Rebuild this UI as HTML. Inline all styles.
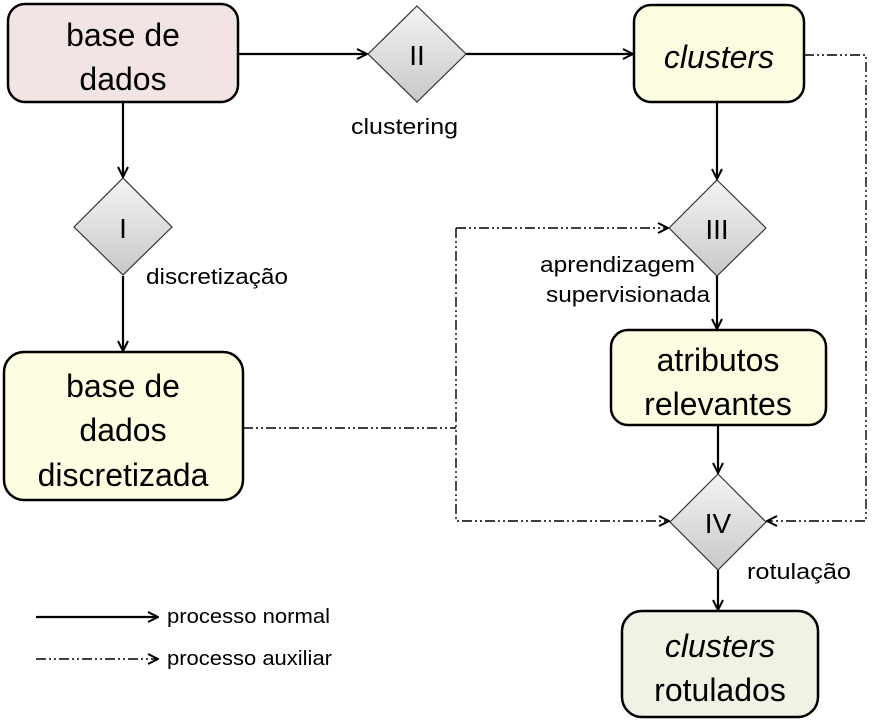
<!DOCTYPE html>
<html><head><style>body{margin:0;background:#fff}svg{display:block}text{font-family:"Liberation Sans",sans-serif;fill:#000}</style></head><body>
<svg width="883" height="722" viewBox="0 0 883 722" xmlns="http://www.w3.org/2000/svg">
<defs>
<linearGradient id="g" x1="0" y1="0" x2="0" y2="1"><stop offset="0" stop-color="#f4f4f4"/><stop offset="1" stop-color="#c8c8c8"/></linearGradient>
<marker id="a" viewBox="0 0 12 12" refX="11" refY="6" markerWidth="12" markerHeight="12" markerUnits="userSpaceOnUse" orient="auto"><path d="M1,1 L11,6 L1,11" fill="none" stroke="#000" stroke-width="2"/></marker>
</defs>
<g stroke="#000" stroke-width="2.2" fill="none" marker-end="url(#a)">
<line x1="123" y1="102" x2="123" y2="177"/>
<line x1="123" y1="276" x2="123" y2="351"/>
<line x1="238" y1="54" x2="367" y2="54"/>
<line x1="466" y1="54" x2="633" y2="54"/>
<line x1="717" y1="102" x2="717" y2="179"/>
<line x1="717" y1="276" x2="717" y2="329"/>
<line x1="718" y1="425" x2="718" y2="473"/>
<line x1="718" y1="570" x2="718" y2="610"/>
<line x1="36" y1="617" x2="158" y2="617"/>
</g>
<g stroke="#000" stroke-width="1.4" fill="none" stroke-dasharray="10,3,2,3,2,3">
<polyline points="243,428 456,428"/>
<polyline points="456,228 456,521 669,521" marker-end="url(#a)"/>
<polyline points="804,55 866,55 866,521 767,521" marker-end="url(#a)"/>
<polyline points="456,228 668,228" marker-end="url(#a)"/>
<line x1="36" y1="659" x2="158" y2="659" marker-end="url(#a)"/>
</g>
<g stroke="#000" stroke-width="2.5">
<rect x="8" y="4" width="230" height="98" rx="17" fill="#f2e4e3"/>
<rect x="634" y="5" width="170" height="97" rx="17" fill="#fcfce0"/>
<rect x="611" y="330" width="215" height="95" rx="17" fill="#fcfce0"/>
<rect x="4" y="352" width="239" height="148" rx="20" fill="#fdfde2"/>
<rect x="622" y="611" width="196" height="106" rx="20" fill="#eef3e3"/>
</g>
<g stroke="#333" stroke-width="1.2" fill="url(#g)">
<polygon points="417,6 466,54 417,102 368,54"/>
<polygon points="123,178 172,227 123,275 74,227"/>
<polygon points="717,180 766,228 717,276 669,228"/>
<polygon points="718,474 766,522 718,570 670,522"/>
</g>
<g font-size="32" text-anchor="middle">
<text x="123" y="46">base de</text><text x="123" y="90">dados</text>
<text x="719" y="68" font-style="italic">clusters</text>
<text x="718" y="371">atributos</text><text x="718" y="415">relevantes</text>
<text x="123" y="397">base de</text><text x="123" y="441">dados</text><text x="123" y="486">discretizada</text>
<text x="720" y="657" font-style="italic">clusters</text><text x="720" y="701">rotulados</text>
</g>
<g font-size="28" text-anchor="middle">
<text x="417" y="65">II</text><text x="123" y="238">I</text><text x="717" y="239">III</text><text x="718" y="533">IV</text>
</g>
<g font-size="22">
<text x="351" y="134" textLength="107" lengthAdjust="spacingAndGlyphs">clustering</text>
<text x="146" y="284" textLength="142" lengthAdjust="spacingAndGlyphs">discretização</text>
<text x="540" y="272" textLength="155" lengthAdjust="spacingAndGlyphs">aprendizagem</text>
<text x="546" y="302" textLength="164" lengthAdjust="spacingAndGlyphs">supervisionada</text>
<text x="747" y="579" textLength="104" lengthAdjust="spacingAndGlyphs">rotulação</text>
<text x="167" y="623" font-size="20" textLength="163" lengthAdjust="spacingAndGlyphs">processo normal</text>
<text x="167" y="665" font-size="20" textLength="165" lengthAdjust="spacingAndGlyphs">processo auxiliar</text>
</g>
</svg>
</body></html>
